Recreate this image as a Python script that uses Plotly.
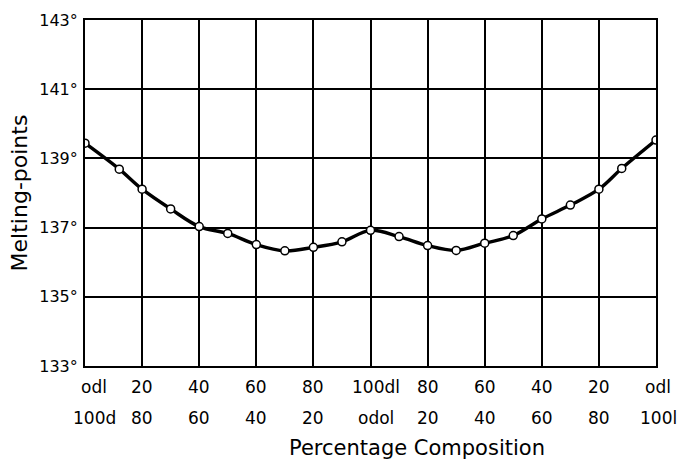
import plotly.graph_objects as go

# composition position (0 = 100% d, 100 = 100% dl, 200 = 100% l)
x_pos = [0, 12, 20, 30, 40, 50, 60, 70, 80, 90, 100, 110, 120, 130, 140, 150, 160, 170, 180, 188, 200]
melting = [139.44, 138.69, 138.11, 137.54, 137.03, 136.83, 136.51, 136.33, 136.43, 136.59, 136.92,
           136.74, 136.48, 136.34, 136.55, 136.77, 137.25, 137.65, 138.11, 138.71, 139.53]

tick_x = [0, 20, 40, 60, 80, 100, 120, 140, 160, 180, 200]
tick_row1 = ["odl", "20", "40", "60", "80", "100dl", "80", "60", "40", "20", "odl"]
tick_row2 = ["100d", "80", "60", "40", "20", "odol", "20", "40", "60", "80", "100l"]
tick_shift = [9, 0, 0, 0, 0, 5, 0, 0, 0, 0, 2]

y_ticks = [133, 135, 137, 139, 141, 143]
y_labels = ["133°", "135°", "137°", "139°", "141°", "143°"]

FONT = "DejaVu Sans"

fig = go.Figure()
fig.add_trace(go.Scatter(
    x=x_pos, y=melting, mode="lines+markers",
    line=dict(color="black", width=3.4, shape="spline", smoothing=1.0),
    marker=dict(size=8, color="white", line=dict(color="black", width=1.5)),
    showlegend=False, hoverinfo="skip",
))

annotations = []
for xv, t1, t2, s in zip(tick_x, tick_row1, tick_row2, tick_shift):
    annotations.append(dict(x=xv, y=-0.062, xref="x", yref="paper", text=t1, showarrow=False,
                            xshift=s, font=dict(family=FONT, size=17, color="black"),
                            xanchor="center", yanchor="middle"))
    annotations.append(dict(x=xv, y=-0.149, xref="x", yref="paper", text=t2, showarrow=False,
                            xshift=s, font=dict(family=FONT, size=17, color="black"),
                            xanchor="center", yanchor="middle"))
annotations.append(dict(x=0.5, y=-0.237, xref="paper", yref="paper", text="Percentage Composition",
                        showarrow=False, font=dict(family=FONT, size=21, color="black"),
                        xanchor="center", yanchor="middle", xshift=46))

fig.update_layout(
    width=697, height=463,
    margin=dict(l=85, r=41, t=20, b=97),
    paper_bgcolor="white", plot_bgcolor="white",
    font=dict(family=FONT, color="black"),
    xaxis=dict(range=[0, 200], tickvals=tick_x, showticklabels=False, ticks="",
               showgrid=True, gridcolor="black", gridwidth=1.5, zeroline=False,
               showline=True, linecolor="black", linewidth=2, mirror=True),
    yaxis=dict(range=[133, 143], tickvals=y_ticks, ticktext=y_labels, ticks="",
               showgrid=True, gridcolor="black", gridwidth=1.5, zeroline=False,
               showline=True, linecolor="black", linewidth=2, mirror=True,
               tickfont=dict(family=FONT, size=16, color="black"), ticklabelstandoff=2,
               title=dict(text="Melting-points", font=dict(family=FONT, size=22, color="black"),
                          standoff=6)),
    yaxis2=dict(range=[133, 143], tickvals=y_ticks, ticktext=y_labels, ticks="",
                overlaying="y", side="right", anchor="x", showgrid=False, zeroline=False,
                showline=False, tickfont=dict(family=FONT, size=16, color="black"),
                ticklabelstandoff=2),
    annotations=annotations,
)

fig.write_html("out.html")
